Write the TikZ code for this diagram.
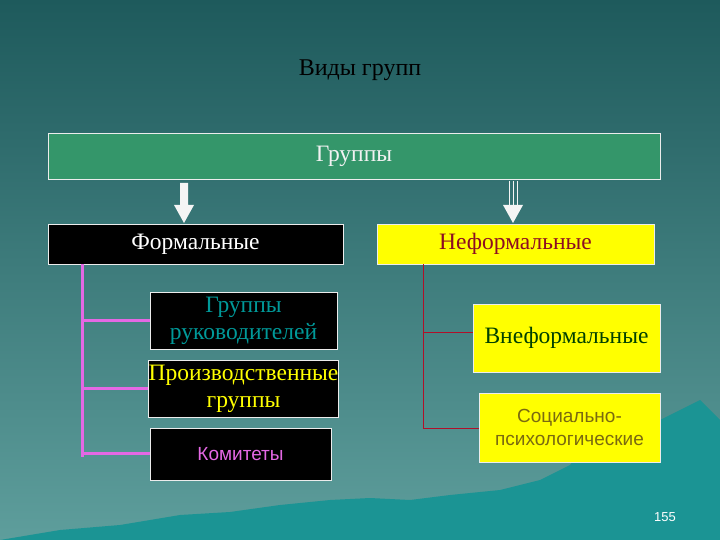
\documentclass[tikz,border=0pt]{standalone}
\usepackage{fontspec}
\setmainfont{Liberation Serif}
\newfontfamily\sansf{Liberation Sans}
\definecolor{bgtop}{HTML}{1E5A5C}
\definecolor{bgbot}{HTML}{5E9E9C}
\definecolor{mount}{HTML}{1B9494}
\definecolor{grbox}{HTML}{34966A}
\definecolor{yel}{HTML}{FFFF00}
\definecolor{mag}{HTML}{E468E4}
\definecolor{redl}{HTML}{B0102A}
\definecolor{olive}{HTML}{7A6A10}
\tikzset{
  box/.style={draw=white!85!gray, line width=0.8pt, inner sep=0pt, align=center, font=\fontsize{23.5}{27}\selectfont},
  blk/.style={box, fill=black},
  ylw/.style={box, fill=yel},
  magl/.style={draw=mag, line width=3pt},
  redln/.style={draw=redl, line width=0.9pt},
}
\begin{document}
\begin{tikzpicture}[x=1pt,y=-1pt]
\shade[top color=bgtop, bottom color=bgbot] (0,0) rectangle (720,540);
\useasboundingbox (0,0) rectangle (720,540);
\fill[mount] (0,540) -- (60,530) -- (120,525) -- (180,515) -- (230,512) -- (280,505) -- (330,500) -- (370,498) -- (410,500) -- (450,495) -- (500,490) -- (540,480) -- (570,465) -- (590,440) -- (610,420) -- (640,410) -- (660,420) -- (680,410) -- (700,400) -- (720,420) -- (720,540) -- cycle;
\node (title) at (360,70) {\fontsize{24}{27}\selectfont Виды групп};
\node[box, fill=grbox, minimum width=612pt, minimum height=46pt, text=white!90!gray] (grp) at (354,156) {Группы};
\node[blk, minimum width=295pt, minimum height=40pt, text=white] (form) at (195.5,244) {Формальные};
\node[ylw, minimum width=277pt, minimum height=40pt, text=redl!80!black] (neform) at (515.5,244) {Неформальные};
\node[blk, minimum width=187pt, minimum height=57pt, text=teal!80!cyan] (ruk) at (243.5,320.5) {Группы\\руководителей};
\node[blk, minimum width=187pt, minimum height=57pt, text=yel] (proizv) at (243.5,388.5) {Производственные\\группы};
\node[blk, minimum width=181pt, minimum height=52pt, text=mag, font=\sansf\fontsize{19}{22}\selectfont] (kom) at (240.5,454) {Комитеты};
\node[ylw, minimum width=187pt, minimum height=68pt, text=green!25!black] (vne) at (566.5,338) {Внеформальные};
\node[ylw, minimum width=181pt, minimum height=69pt, text=olive, font=\sansf\fontsize{19}{23}\selectfont] (soc) at (569.5,427.5) {Социально-\\психологические};
\node[text=white, font=\sansf\fontsize{13}{14}\selectfont] (num) at (665,517) {155};
% arrows
\fill[white!92!gray] (180,183) rectangle (188,205) (174,205) -- (194,205) -- (184,223) -- cycle;
\draw[white!92!gray, line width=1pt] (509,181) -- (509,205) (513,181) -- (513,205) (517,181) -- (517,205);
\fill[white!92!gray] (503,205) -- (523,205) -- (513,223) -- cycle;
% magenta
\coordinate (mtop) at (82,264);
\draw[magl] (mtop) -- (82,457);
\draw[magl] (82,320) -- (ruk.west |- 0,320);
\draw[magl] (82,388) -- (proizv.west |- 0,388);
\draw[magl] (82,453) -- (kom.west |- 0,453);
% red
\draw[redln] (423,264) -- (423,428);
\draw[redln] (423,332) -- (vne.west |- 0,332);
\draw[redln] (423,428) -- (soc.west |- 0,428);
\end{tikzpicture}
\end{document}
